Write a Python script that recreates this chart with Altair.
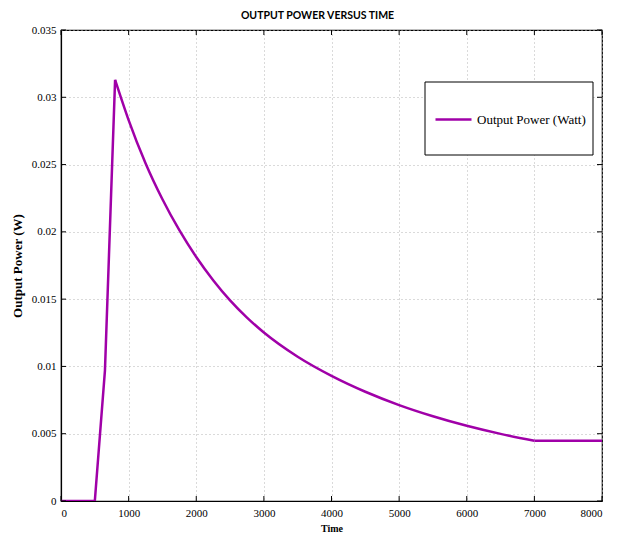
import altair as alt
import pandas as pd

# ---- data ----
time = [0, 500, 650, 800, 900, 1000, 1250, 1500, 1750, 2000, 2250, 2500, 2750,
        3000, 3500, 4000, 4500, 5000, 5500, 6000, 6500, 7000, 8000]
power = [0, 0, 0.0097, 0.0313, 0.02977, 0.0283, 0.0251, 0.02242, 0.02012,
         0.01813, 0.01641, 0.01491, 0.01363, 0.01252, 0.01072, 0.0093, 0.00812,
         0.00713, 0.0063, 0.00559, 0.00499, 0.00448, 0.00448]
series_name = "Output Power (Watt)"
x_ticks = [0, 1000, 2000, 3000, 4000, 5000, 6000, 7000, 8000]
y_ticks = [0, 0.005, 0.01, 0.015, 0.02, 0.025, 0.03, 0.035]
peak_time = 800
flat_time = 7000

W, H = 541, 471
serif = "Liberation Serif"
purple = "#A000A8"

df = pd.DataFrame({"Time": time, "Power": power, "Series": series_name})
xt = pd.DataFrame({"t": x_ticks})
yt = pd.DataFrame({"v": y_ticks})
box = pd.DataFrame({"k": [0]})

xs = alt.Scale(domain=[0, 8000], nice=False, zero=False)
ys = alt.Scale(domain=[0, 0.035], nice=False)

common_axis = dict(grid=True, gridDash=[1, 3], gridColor="#b5b5b5", gridWidth=1,
                   ticks=False, domainColor="black", domainWidth=1.2,
                   labelFont=serif, labelFontSize=11, labelColor="black",
                   titleFont=serif, titleFontWeight="bold", titleColor="black")
x_axis = alt.Axis(values=x_ticks, format="d", title="Time",
                  labelPadding=6, titlePadding=5, titleFontSize=10, **common_axis)
y_axis = alt.Axis(values=y_ticks, format="~g", title="Output Power (W)",
                  labelPadding=5, titlePadding=7, titleFontSize=13, **common_axis)

color = alt.Color("Series:N", scale=alt.Scale(range=[purple]),
                  legend=alt.Legend(title=None, orient="none", legendX=373,
                                    legendY=70, symbolType="stroke",
                                    symbolSize=1296, symbolStrokeWidth=2.5,
                                    labelFont=serif, labelFontSize=13,
                                    labelColor="black", labelOffset=4,
                                    padding=0))

base = alt.Chart(df).encode(
    x=alt.X("Time:Q", scale=xs, axis=x_axis),
    y=alt.Y("Power:Q", scale=ys, axis=y_axis),
    color=color,
)
rise = base.mark_line(strokeWidth=2.5, clip=True).transform_filter(
    alt.datum.Time <= peak_time)
decay = base.mark_line(strokeWidth=2.5, clip=True, interpolate="monotone").transform_filter(
    (alt.datum.Time >= peak_time) & (alt.datum.Time <= flat_time))
flat = base.mark_line(strokeWidth=2.5, clip=True).transform_filter(
    alt.datum.Time >= flat_time)

legend_box = alt.Chart(box).mark_rect(fill="white", stroke="black", strokeWidth=1).encode(
    x=alt.value(364), x2=alt.value(532), y=alt.value(52), y2=alt.value(125))

tick_len = 5
bottom = alt.Chart(xt).mark_rule(color="black").encode(
    x=alt.X("t:Q", scale=xs, axis=x_axis), y=alt.value(H), y2=alt.value(H - tick_len))
top = alt.Chart(xt).mark_rule(color="black").encode(
    x=alt.X("t:Q", scale=xs, axis=x_axis), y=alt.value(0), y2=alt.value(tick_len))
left = alt.Chart(yt).mark_rule(color="black").encode(
    y=alt.Y("v:Q", scale=ys, axis=y_axis), x=alt.value(0), x2=alt.value(tick_len))
right = alt.Chart(yt).mark_rule(color="black").encode(
    y=alt.Y("v:Q", scale=ys, axis=y_axis), x=alt.value(W), x2=alt.value(W - tick_len))

chart = alt.layer(rise, decay, flat, legend_box, bottom, top, left, right).properties(
    width=W, height=H,
    title=alt.TitleParams("OUTPUT POWER VERSUS TIME", font="Lato",
                          fontSize=10.5, fontWeight="bold", color="black",
                          anchor="middle", dx=-14, offset=3),
    autosize=alt.AutoSizeParams(type="none"),
    padding={"left": 53, "top": 22, "right": 9, "bottom": 32},
).configure_view(stroke="black", strokeWidth=1.2)

chart.save("out.html", embed_options={"renderer": "svg", "actions": False})
